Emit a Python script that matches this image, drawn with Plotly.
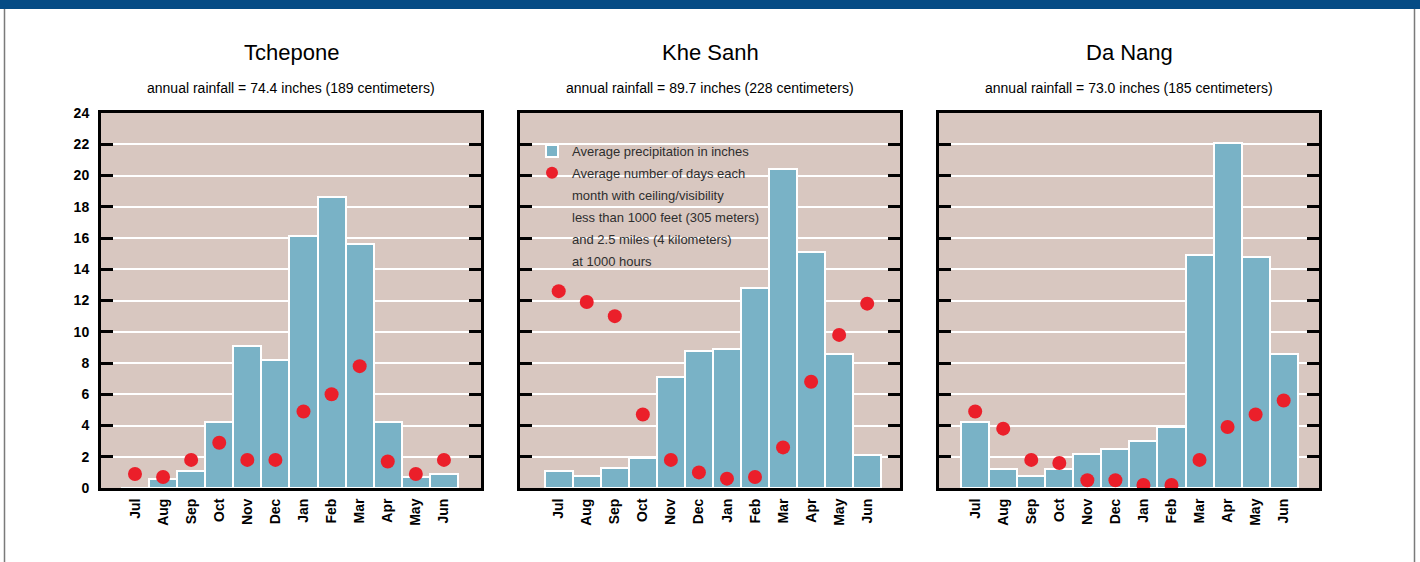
import plotly.graph_objects as go

W, H = 1420, 562

months = ["Jul", "Aug", "Sep", "Oct", "Nov", "Dec", "Jan", "Feb", "Mar", "Apr", "May", "Jun"]
y_ticks = [0, 2, 4, 6, 8, 10, 12, 14, 16, 18, 20, 22, 24]

stations = ["Tchepone", "Khe Sanh", "Da Nang"]
subtitles = [
    "annual rainfall = 74.4 inches (189 centimeters)",
    "annual rainfall = 89.7 inches (228 centimeters)",
    "annual rainfall = 73.0 inches (185 centimeters)",
]

tchepone_precip = [0.0, 0.6, 1.1, 4.2, 9.1, 8.2, 16.1, 18.6, 15.6, 4.2, 0.7, 0.9]
tchepone_days = [0.9, 0.7, 1.8, 2.9, 1.8, 1.8, 4.9, 6.0, 7.8, 1.7, 0.9, 1.8]

khesanh_precip = [1.1, 0.8, 1.3, 1.9, 7.1, 8.8, 8.9, 12.8, 20.4, 15.1, 8.6, 2.1]
khesanh_days = [12.6, 11.9, 11.0, 4.7, 1.8, 1.0, 0.6, 0.7, 2.6, 6.8, 9.8, 11.8]

danang_precip = [4.2, 1.2, 0.8, 1.2, 2.2, 2.5, 3.0, 3.9, 14.9, 22.1, 14.8, 8.6]
danang_days = [4.9, 3.8, 1.8, 1.6, 0.5, 0.5, 0.2, 0.2, 1.8, 3.9, 4.7, 5.6]

legend_bar = "Average precipitation in inches"
legend_dot_lines = [
    "Average number of days each",
    "month with ceiling/visibility",
    "less than 1000 feet (305 meters)",
    "and 2.5 miles (4 kilometers)",
    "at 1000 hours",
]

precip = [tchepone_precip, khesanh_precip, danang_precip]
days = [tchepone_days, khesanh_days, danang_days]

BAR = "#79b2c6"
BG = "#d8c7c0"
RED = "#eb1f2a"
HEADER = "#054b85"
FONT = "Liberation Sans, Arial, Helvetica, sans-serif"

# pixel layout of the three plot areas
px_left = [101, 520, 939]
px_width = 380
px_top, px_bottom = 113, 488
x_ranges = [[-1.21, 12.32], [-1.38, 12.17], [-1.29, 12.26]]


def pxx(p):
    return p / W


def pxy(p):
    return 1 - p / H


fig = go.Figure()

for i in range(3):
    ax = "" if i == 0 else str(i + 1)
    fig.add_trace(go.Bar(
        x=months, y=precip[i], xaxis="x" + ax, yaxis="y" + ax,
        marker=dict(color=BAR, line=dict(color="white", width=2)),
        name=legend_bar, showlegend=(i == 1), legendgroup="g0", legendrank=1,
    ))
for i in range(3):
    ax = "" if i == 0 else str(i + 1)
    fig.add_trace(go.Scatter(
        x=months, y=days[i], xaxis="x" + ax, yaxis="y" + ax, mode="markers",
        marker=dict(color=RED, size=14, line=dict(width=0)),
        name=legend_dot_lines[0], showlegend=(i == 1), legendgroup="g1", legendrank=2,
    ))
# continuation lines of the legend text (no marks)
for k, line in enumerate(legend_dot_lines[1:]):
    fig.add_trace(go.Scatter(
        x=[None], y=[None], xaxis="x2", yaxis="y2", mode="markers",
        marker=dict(color="rgba(0,0,0,0)", size=1, opacity=0),
        name=line, showlegend=True, legendgroup="g%d" % (k + 2), legendrank=3 + k,
        hoverinfo="skip",
    ))

layout = dict(
    width=W, height=H, autosize=False,
    margin=dict(l=0, r=0, t=0, b=0, pad=0, autoexpand=False),
    paper_bgcolor="white",
    plot_bgcolor=BG,
    bargap=0,
    showlegend=True,
    legend=dict(
        x=pxx(532), y=pxy(136), xanchor="left", yanchor="top",
        bgcolor="rgba(0,0,0,0)", borderwidth=0, valign="middle",
        font=dict(family=FONT, size=13, color="#2e2e2e"),
        traceorder="grouped", tracegroupgap=2, itemsizing="constant",
        groupclick="toggleitem",
    ),
    font=dict(family=FONT, color="black"),
)

for i in range(3):
    ax = "" if i == 0 else str(i + 1)
    dom_x = [pxx(px_left[i]), pxx(px_left[i] + px_width)]
    layout["xaxis" + ax] = dict(
        domain=dom_x, anchor="y" + ax, type="category", automargin=False,
        categoryorder="array", categoryarray=months,
        range=x_ranges[i], showgrid=False, zeroline=False,
        showline=True, linecolor="black", linewidth=3, mirror=True,
        ticks="", tickangle=-90, ticklabelstandoff=2,
        tickfont=dict(family=FONT, size=14, weight="bold", color="black"),
    )
    layout["yaxis" + ax] = dict(
        domain=[pxy(px_bottom), pxy(px_top)], anchor="x" + ax, automargin=False,
        range=[0, 24], tickvals=y_ticks, ticktext=[str(v) for v in y_ticks],
        showgrid=True, gridcolor="white", gridwidth=2, zeroline=False,
        showline=True, linecolor="black", linewidth=3, mirror="ticks",
        ticks="inside", ticklen=12, tickwidth=2.5, tickcolor="black",
        showticklabels=(i == 0), ticklabelstandoff=6,
        tickfont=dict(family=FONT, size=14, weight="bold", color="black"),
    )

fig.update_layout(**layout)

annotations = []
for i in range(3):
    cx = pxx(px_left[i] + px_width / 2)
    annotations.append(dict(
        text=stations[i], x=cx, y=pxy(52), xref="paper", yref="paper",
        xanchor="center", yanchor="middle", showarrow=False,
        font=dict(family=FONT, size=22, color="black"),
    ))
    annotations.append(dict(
        text=subtitles[i], x=cx, y=pxy(88), xref="paper", yref="paper",
        xanchor="center", yanchor="middle", showarrow=False,
        font=dict(family=FONT, size=14, color="black"),
    ))
fig.update_layout(annotations=annotations)

shapes = [
    dict(type="rect", xref="paper", yref="paper", x0=0, x1=1, y0=pxy(9), y1=1,
         fillcolor=HEADER, line=dict(width=0), layer="above"),
    dict(type="line", xref="paper", yref="paper", x0=pxx(4.5), x1=pxx(4.5), y0=0, y1=pxy(9),
         line=dict(color="#7a7a7a", width=1.5)),
    dict(type="line", xref="paper", yref="paper", x0=pxx(1414.5), x1=pxx(1414.5), y0=0, y1=pxy(9),
         line=dict(color="#7a7a7a", width=1.5)),
]
fig.update_layout(shapes=shapes)

post = ("var gd=document.getElementById('{plot_id}');"
        "document.body.style.margin='0';document.body.style.padding='0';"
        "gd.style.position='absolute';gd.style.left='0px';gd.style.top='0px';")

fig.write_html("out.html", post_script=post,
               config={"displayModeBar": False, "responsive": False})
